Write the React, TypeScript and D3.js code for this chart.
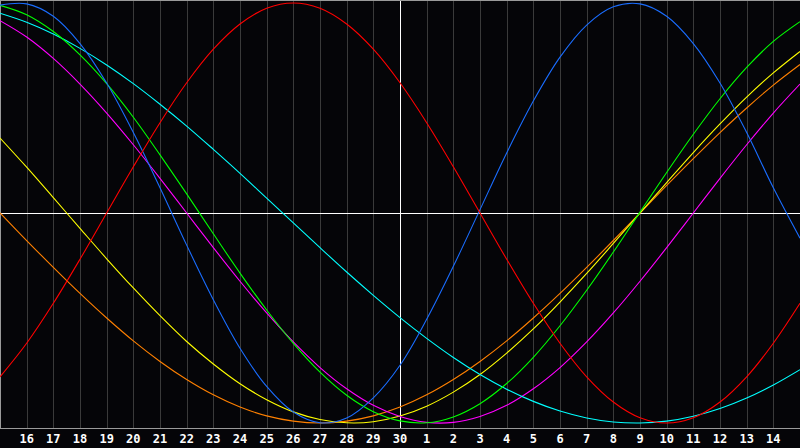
// App.tsx
import React, {useEffect, useRef} from "react";
import * as d3 from "d3";

const dayLabels = [
    "15", "16", "17", "18", "19", "20", "21", "22", "23", "24", "25", "26", "27", "28", "29", "30",
    "1", "2", "3", "4", "5", "6", "7", "8", "9", "10", "11", "12", "13", "14", "15",
];

// one value per day (-1 .. 1)
const redValues = [
    -0.78, -0.62, -0.43, -0.22, 0, 0.22, 0.43, 0.62, 0.78, 0.9, 0.975, 1, 0.975, 0.9, 0.78, 0.62,
    0.43, 0.22, 0, -0.22, -0.43, -0.62, -0.78, -0.9, -0.975, -1, -0.975, -0.9, -0.78, -0.62, -0.43,
];
const blueValues = [
    0.99, 0.996, 0.937, 0.807, 0.619, 0.383, 0.12, -0.153, -0.413, -0.644, -0.826, -0.948, -0.999, -0.976, -0.88, -0.725,
    -0.506, -0.254, 0.016, 0.286, 0.533, 0.742, 0.895, 0.982, 0.996, 0.937, 0.807, 0.619, 0.383, 0.12, -0.12,
];
const greenValues = [
    0.989, 0.944, 0.864, 0.753, 0.616, 0.456, 0.277, 0.091, -0.099, -0.286, -0.462, -0.621, -0.758, -0.868, -0.946, -0.99,
    -0.999, -0.971, -0.908, -0.812, -0.687, -0.537, -0.368, -0.186, 0.004, 0.193, 0.375, 0.544, 0.693, 0.817, 0.911,
];
const cyanValues = [
    0.951, 0.908, 0.852, 0.784, 0.705, 0.616, 0.518, 0.414, 0.303, 0.189, 0.071, -0.047, -0.165, -0.281, -0.392, -0.498,
    -0.597, -0.688, -0.769, -0.839, -0.897, -0.943, -0.976, -0.995, -1, -0.991, -0.968, -0.931, -0.881, -0.819, -0.746,
];
const magentaValues = [
    0.916, 0.838, 0.736, 0.614, 0.476, 0.325, 0.165, 0, -0.165, -0.325, -0.476, -0.614, -0.736, -0.837, -0.916, -0.969,
    -0.997, -0.997, -0.969, -0.916, -0.837, -0.736, -0.614, -0.476, -0.325, -0.165, 0, 0.165, 0.325, 0.476, 0.614,
];
const yellowValues = [
    0.357, 0.218, 0.073, -0.073, -0.218, -0.357, -0.489, -0.612, -0.719, -0.813, -0.889, -0.947, -0.983, -0.999, -0.994, -0.967,
    -0.92, -0.853, -0.769, -0.667, -0.552, -0.424, -0.288, -0.145, 0, 0.145, 0.288, 0.424, 0.552, 0.667, 0.769,
];
const orangeValues = [
    0, -0.131, -0.259, -0.383, -0.5, -0.609, -0.707, -0.793, -0.866, -0.924, -0.966, -0.991, -1, -0.991, -0.966, -0.924,
    -0.866, -0.793, -0.707, -0.609, -0.5, -0.383, -0.259, -0.131, 0, 0.131, 0.259, 0.383, 0.5, 0.609, 0.707,
];

const seriesList = [
    {color: "#ff8000", values: orangeValues},
    {color: "#ffff00", values: yellowValues},
    {color: "#ff00ff", values: magentaValues},
    {color: "#00ffff", values: cyanValues},
    {color: "#00ff00", values: greenValues},
    {color: "#1a6dff", values: blueValues},
    {color: "#ff0000", values: redValues},
];

const BioChart: React.FC<{ width?: number; height?: number }> = ({width = 800, height = 448}) => {
    const svgRef = useRef<SVGSVGElement | null>(null);

    useEffect(() => {
        if (!svgRef.current) return;
        const svg = d3.select(svgRef.current);
        svg.selectAll("*").remove();

        const plotBottom = 428;
        const x = d3.scaleLinear().domain([0, dayLabels.length - 1]).range([0, width]);
        const y = d3.scaleLinear().domain([-1, 1]).range([423, 3]);

        svg.append("rect")
            .attr("width", width)
            .attr("height", height)
            .attr("fill", "#050508");

        // day grid
        const inner = d3.range(1, dayLabels.length - 1);
        svg.append("g")
            .selectAll("line")
            .data(inner)
            .enter()
            .append("line")
            .attr("x1", (i) => Math.round(x(i)) + 0.5)
            .attr("x2", (i) => Math.round(x(i)) + 0.5)
            .attr("y1", 0)
            .attr("y2", plotBottom)
            .attr("stroke", (i) => (i === 15 ? "#ffffff" : "#3a3a3a"))
            .attr("shape-rendering", "crispEdges");

        // zero line
        svg.append("line")
            .attr("x1", 0)
            .attr("x2", width)
            .attr("y1", Math.round(y(0)) + 0.5)
            .attr("y2", Math.round(y(0)) + 0.5)
            .attr("stroke", "#ffffff")
            .attr("shape-rendering", "crispEdges");

        // frame
        const frame = svg.append("g").attr("stroke", "#9a9a9a").attr("shape-rendering", "crispEdges");
        frame.append("line").attr("x1", 0).attr("x2", width).attr("y1", 0.5).attr("y2", 0.5);
        frame.append("line").attr("x1", 0.5).attr("x2", 0.5).attr("y1", 0).attr("y2", plotBottom);
        frame.append("line").attr("x1", 0).attr("x2", width).attr("y1", plotBottom + 0.5).attr("y2", plotBottom + 0.5);

        const line = d3
            .line<number>()
            .x((_, i) => x(i))
            .y((v) => y(v))
            .curve(d3.curveCatmullRom.alpha(0.5));

        svg.append("g")
            .selectAll("path")
            .data(seriesList)
            .enter()
            .append("path")
            .attr("d", (s) => line(s.values))
            .attr("fill", "none")
            .attr("stroke", (s) => s.color)
            .attr("stroke-width", 1.1);

        svg.append("g")
            .selectAll("text")
            .data(inner)
            .enter()
            .append("text")
            .attr("x", (i) => x(i))
            .attr("y", 443)
            .attr("text-anchor", "middle")
            .style("font-family", "'DejaVu Sans Mono', monospace")
            .style("font-weight", "bold")
            .style("font-size", "12px")
            .style("fill", "#ffffff")
            .text((i) => dayLabels[i]);
    }, [width, height]);

    return <svg ref={svgRef} width={width} height={height} style={{display: "block"}} />;
};

export default function App() {
    return (
        <div style={{position: "fixed", left: 0, top: 0, width: 800, height: 448, background: "#000"}}>
            <BioChart />
        </div>
    );
}
